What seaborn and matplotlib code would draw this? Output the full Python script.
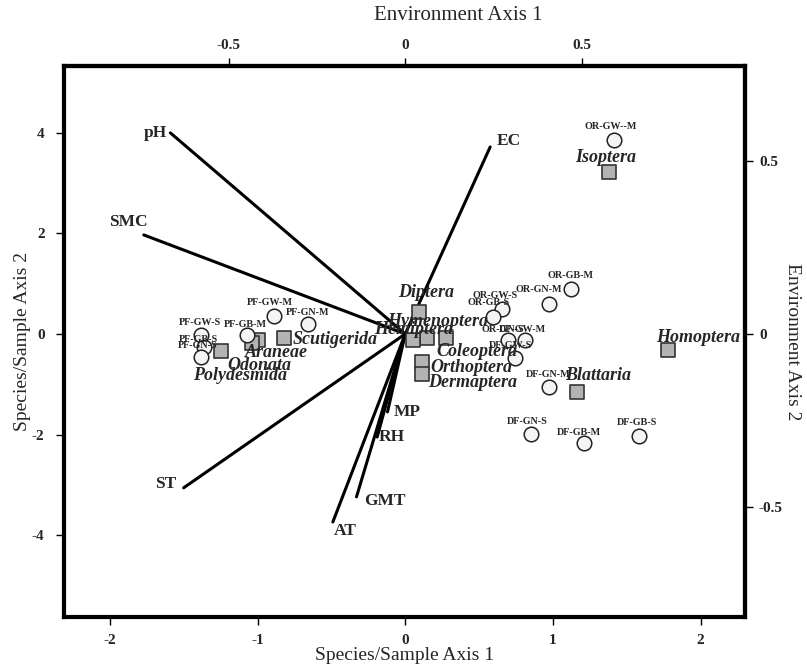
import matplotlib
matplotlib.use("Agg")
import matplotlib.pyplot as plt
import seaborn as sns
import pandas as pd

sns.set_theme(style="white")
plt.rcParams['font.family'] = ['Liberation Serif', 'DejaVu Serif']
plt.rcParams['axes.unicode_minus'] = False

# ---------------- data ----------------
env_names = ["pH", "SMC", "ST", "AT", "GMT", "RH", "MP", "EC"]
env_x = [-1.59, -1.77, -1.50, -0.49, -0.33, -0.19, -0.12, 0.575]
env_y = [4.00, 1.97, -3.06, -3.74, -3.24, -2.05, -1.55, 3.72]

species_names = ["Isoptera", "Homoptera", "Blattaria", "Diptera", "Hymenoptera",
                 "Hemiptera", "Coleoptera", "Orthoptera", "Dermaptera",
                 "Scutigerida", "Araneae", "Odonata", "Polydesmida"]
species_x = [1.38, 1.78, 1.165, 0.095, 0.149, 0.054, 0.278, 0.115, 0.115,
             -0.82, -1.00, -1.04, -1.25]
species_y = [3.22, -0.32, -1.15, 0.44, -0.08, -0.12, -0.08, -0.56, -0.80,
             -0.08, -0.12, -0.18, -0.34]

sample_names = ["OR-GW--M", "OR-GB-M", "OR-GN-M", "OR-GW-S", "OR-GB-S", "OR-GN-S",
                "DF-GW-M", "DF-GW-S", "DF-GN-M", "DF-GN-S", "DF-GB-M", "DF-GB-S",
                "PF-GW-M", "PF-GN-M", "PF-GB-M", "PF-GW-S", "PF-GB-S", "PF-GN-S"]
sample_x = [1.41, 1.12, 0.97, 0.657, 0.596, 0.697,
            0.81, 0.74, 0.97, 0.85, 1.21, 1.58,
            -0.887, -0.657, -1.07, -1.38, -1.36, -1.38]
sample_y = [3.86, 0.89, 0.60, 0.50, 0.34, -0.12,
            -0.12, -0.48, -1.05, -1.99, -2.17, -2.03,
            0.36, 0.20, -0.02, -0.02, -0.26, -0.46]

# ---------------- label offsets (pixels) ----------------
env_off = {"pH": (-3, 0, "right"), "SMC": (-15, 13, "center"), "ST": (-18, 4, "center"),
           "AT": (12, -9, "center"), "GMT": (28, -4, "center"), "RH": (15, 0, "center"),
           "MP": (20, 0, "center"), "EC": (19, 6, "center")}
species_off = {"Isoptera": (-3, 15), "Homoptera": (30, 13), "Blattaria": (21, 16),
               "Diptera": (7, 19), "Hymenoptera": (10, 16), "Hemiptera": (0, 10),
               "Coleoptera": (31, -14), "Orthoptera": (49, -5), "Dermaptera": (50, -8),
               "Scutigerida": (51, -2), "Araneae": (19, -13), "Odonata": (8, -22),
               "Polydesmida": (19, -24)}
sample_off = {"OR-GW--M": (-3, 13), "OR-GB-M": (0, 14), "OR-GN-M": (-10, 14),
              "OR-GW-S": (-7, 13), "OR-GB-S": (-5, 14), "OR-GN-S": (-5, 10),
              "DF-GW-M": (-2, 10), "DF-GW-S": (-4, 13), "DF-GN-M": (0, 12),
              "DF-GN-S": (-4, 13), "DF-GB-M": (-5, 11), "DF-GB-S": (-2, 14),
              "PF-GW-M": (-4, 13), "PF-GN-M": (-1, 11), "PF-GB-M": (-2, 10),
              "PF-GW-S": (-1, 12), "PF-GB-S": (-6, 8), "PF-GN-S": (-4, 12)}

env_df = pd.DataFrame({"name": env_names, "x": env_x, "y": env_y})
sp_df = pd.DataFrame({"name": species_names, "x": species_x, "y": species_y})
sa_df = pd.DataFrame({"name": sample_names, "x": sample_x, "y": sample_y})

fig = plt.figure(figsize=(8.07, 6.72), dpi=100)
ax = fig.add_axes([64 / 807, 1 - 617 / 672, (745 - 64) / 807, (617 - 66) / 672])

# environment vectors
for _, r in env_df.iterrows():
    seg = pd.DataFrame({"x": [0, r.x], "y": [0, r.y]})
    sns.lineplot(data=seg, x="x", y="y", ax=ax, color="black", lw=2.2,
                 sort=False, legend=False, zorder=2)
    dx, dy, ha = env_off[r["name"]]
    ax.annotate(r["name"], (r.x, r.y), xytext=(dx, dy), textcoords="offset pixels",
                ha=ha, va="center", fontsize=12.5, fontweight="bold", zorder=6)

# species squares
sns.scatterplot(data=sp_df, x="x", y="y", ax=ax, marker="s", s=100,
                color="#b3b3b3", edgecolor="#333333", linewidth=1.2, zorder=3, legend=False)
for _, r in sp_df.iterrows():
    dx, dy = species_off[r["name"]]
    ax.annotate(r["name"], (r.x, r.y), xytext=(dx, dy), textcoords="offset pixels",
                ha="center", va="center", fontsize=13, fontweight="bold",
                fontstyle="italic", zorder=6)

# sample circles
sns.scatterplot(data=sa_df, x="x", y="y", ax=ax, marker="o", s=110,
                color="#f4f4f4", edgecolor="#222222", linewidth=1.1, zorder=4, legend=False)
for _, r in sa_df.iterrows():
    dx, dy = sample_off[r["name"]]
    ax.annotate(r["name"], (r.x, r.y), xytext=(dx, dy), textcoords="offset pixels",
                ha="center", va="center", fontsize=7.3, fontweight="bold", zorder=6)

ax.set_xlim(-2.31, 2.30)
ax.set_ylim(-5.63, 5.33)
ax.set_xticks([-2, -1, 0, 1, 2])
ax.set_xticklabels(["-2", "-1", "0", "1", "2"])
ax.set_yticks([-4, -2, 0, 2, 4])
ax.set_yticklabels(["-4", "-2", "0", "2", "4"])
ax.set_xlabel("Species/Sample Axis 1", fontsize=14, labelpad=0)
ax.set_ylabel("Species/Sample Axis 2", fontsize=14, labelpad=1)

for sp in ax.spines.values():
    sp.set_linewidth(3)
    sp.set_color("black")
ax.tick_params(axis="both", which="both", direction="out", length=6, width=1,
               labelsize=11, pad=6, bottom=True, left=True, color="black")
ax.tick_params(axis="y", pad=8)
for lab in ax.get_xticklabels() + ax.get_yticklabels():
    lab.set_fontweight("bold")

sx = 2.39
sy = 6.88
top = ax.secondary_xaxis("top", functions=(lambda v: v / sx, lambda v: v * sx))
top.set_xticks([-0.5, 0, 0.5])
top.set_xticklabels(["-0.5", "0", "0.5"])
top.tick_params(direction="out", length=6, width=1, labelsize=11, pad=4, color="black")
top.spines["top"].set_linewidth(3)
for lab in top.get_xticklabels():
    lab.set_fontweight("bold")
fig.text(458 / 807, 1 - 15 / 672, "Environment Axis 1", fontsize=15,
         ha="center", va="center")

right = ax.secondary_yaxis("right", functions=(lambda v: v / sy, lambda v: v * sy))
right.set_yticks([-0.5, 0, 0.5])
right.set_yticklabels(["-0.5", "0", "0.5"])
right.tick_params(direction="out", length=6, width=1, labelsize=11, pad=4, color="black")
right.spines["right"].set_linewidth(3)
for lab in right.get_yticklabels():
    lab.set_fontweight("bold")
fig.text(793 / 807, 1 - 342 / 672, "Environment Axis 2", fontsize=14,
         ha="center", va="center", rotation=270)

fig.savefig("out.png", dpi=100, facecolor="white")
